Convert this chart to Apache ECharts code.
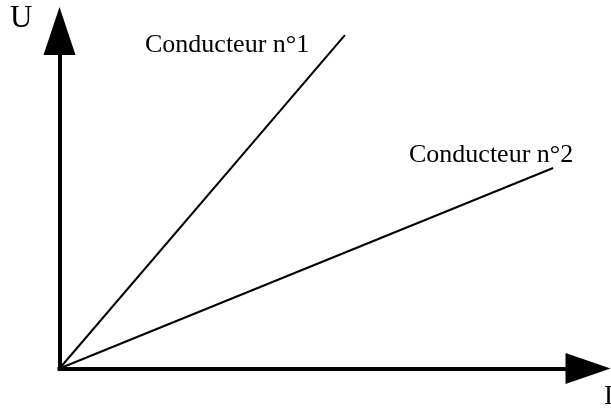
<!DOCTYPE html>
<html>
<head>
<meta charset="utf-8">
<script src="https://cdn.jsdelivr.net/npm/echarts@6/dist/echarts.min.js"></script>
<style>html,body{margin:0;padding:0;background:#fff}#c{width:611px;height:410px}</style>
</head>
<body>
<div id="c"></div>
<script>
const conducteur1 = [[0, 0], [54.0, 98.8]];
const conducteur2 = [[0, 0], [93.4, 59.4]];
const seriesNames = ['Conducteur n°1', 'Conducteur n°2'];
const axisNames = ['I', 'U'];

const chart = echarts.init(document.getElementById('c'), null, {renderer: 'canvas'});
const axisLine = {
  show: true,
  symbol: ['none', 'triangle'],
  lineStyle: {color: '#000', width: 4, cap: 'square'}
};
chart.setOption({
  animation: false,
  backgroundColor: '#fff',
  grid: {left: 59.5, right: 23, top: 31, bottom: 41.5, containLabel: false, outerBoundsMode: 'none'},
  xAxis: {
    type: 'value', min: 0, max: 100,
    axisLine: Object.assign({}, axisLine, {symbolSize: [31, 45]}),
    axisTick: {show: false}, axisLabel: {show: false}, splitLine: {show: false}
  },
  yAxis: {
    type: 'value', min: 0, max: 100,
    axisLine: Object.assign({}, axisLine, {symbolSize: [32, 48]}),
    axisTick: {show: false}, axisLabel: {show: false}, splitLine: {show: false}
  },
  series: [
    {name: seriesNames[0], type: 'line', data: conducteur1, symbol: 'none',
     lineStyle: {color: '#000', width: 2}},
    {name: seriesNames[1], type: 'line', data: conducteur2, symbol: 'none',
     lineStyle: {color: '#000', width: 2}}
  ],
  graphic: [
    {type: 'text', x: 145, y: 45, style: {text: seriesNames[0], font: '26px "Liberation Serif"', fill: '#000', verticalAlign: 'middle', align: 'left'}},
    {type: 'text', x: 409, y: 155.5, style: {text: seriesNames[1], font: '26px "Liberation Serif"', fill: '#000', verticalAlign: 'middle', align: 'left'}},
    {type: 'text', x: 10, y: 18.5, style: {text: axisNames[1], font: '31px "Liberation Serif"', fill: '#000', verticalAlign: 'middle', align: 'left'}},
    {type: 'text', x: 604, y: 397, style: {text: axisNames[0], font: '27px "Liberation Serif"', fill: '#000', verticalAlign: 'middle', align: 'left'}}
  ]
});
</script>
</body>
</html>
